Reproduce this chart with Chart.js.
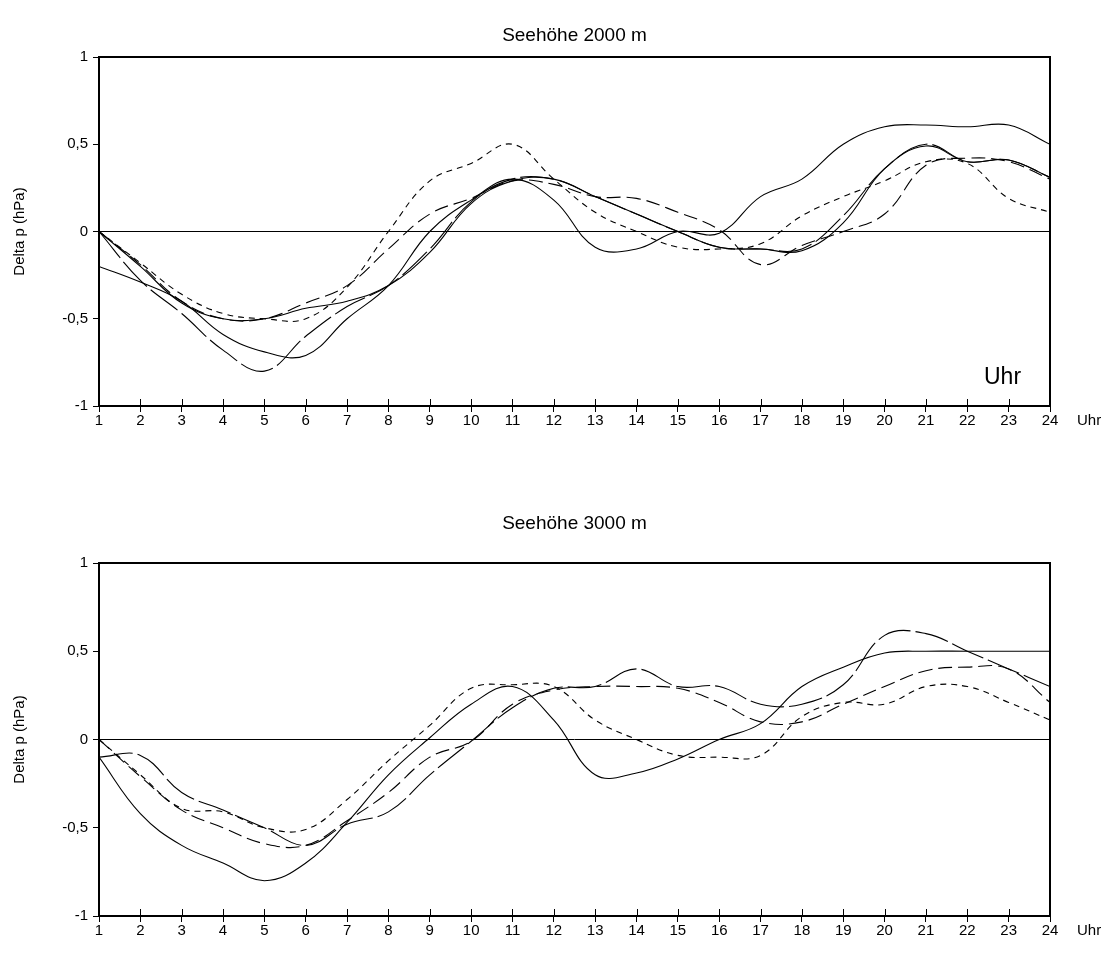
<!DOCTYPE html>
<html>
<head>
<meta charset="utf-8">
<script src="https://cdn.jsdelivr.net/npm/chart.js@4.4.1/dist/chart.umd.min.js"></script>
<style>
  body { margin: 0; background: #fff; width: 1112px; height: 956px; position: relative; overflow: hidden; font-family: "Liberation Sans", Arial, sans-serif; }
  .panel { position: absolute; left: 0; width: 1112px; height: 478px; }
  .panel canvas { display: block; }
  .title { position: absolute; left: 99px; width: 951px; text-align: center; font-size: 19px; line-height: 22px; color: #000; }
</style>
</head>
<body>
<div class="panel" style="top:0"><canvas id="chart2000" width="1112" height="478"></canvas></div>
<div class="panel" style="top:478px"><canvas id="chart3000" width="1112" height="478"></canvas></div>
<div class="title" style="top:24px">Seehöhe 2000 m</div>
<div class="title" style="top:512px">Seehöhe 3000 m</div>
<script>
// hours of the day
const hours = [1, 2, 3, 4, 5, 6, 7, 8, 9, 10, 11, 12, 13, 14, 15, 16, 17, 18, 19, 20, 21, 22, 23, 24];
const yTicks = [-1, -0.5, 0, 0.5, 1];

// Seehöhe 2000 m
const h2000a = [-0.20, -0.29, -0.40, -0.59, -0.69, -0.71, -0.50, -0.31, 0.00, 0.18, 0.30, 0.18, -0.09, -0.10, 0.00, -0.01, 0.20, 0.30, 0.50, 0.60, 0.61, 0.60, 0.61, 0.50];
const h2000b = [0.00, -0.28, -0.47, -0.68, -0.80, -0.60, -0.43, -0.31, -0.10, 0.17, 0.30, 0.30, 0.20, 0.10, 0.00, -0.09, -0.10, -0.10, 0.09, 0.36, 0.50, 0.40, 0.41, 0.31];
const h2000c = [0.00, -0.19, -0.40, -0.50, -0.50, -0.41, -0.31, -0.10, 0.10, 0.19, 0.29, 0.27, 0.20, 0.19, 0.11, 0.01, -0.19, -0.08, 0.00, 0.10, 0.38, 0.42, 0.40, 0.30];
const h2000d = [0.00, -0.18, -0.36, -0.47, -0.50, -0.50, -0.32, 0.00, 0.29, 0.39, 0.50, 0.30, 0.11, 0.00, -0.09, -0.10, -0.07, 0.09, 0.20, 0.29, 0.40, 0.39, 0.19, 0.11];
const h2000e = [0.00, -0.20, -0.41, -0.50, -0.50, -0.44, -0.40, -0.31, -0.12, 0.16, 0.29, 0.30, 0.20, 0.10, 0.00, -0.09, -0.10, -0.11, 0.05, 0.36, 0.49, 0.40, 0.41, 0.31];

// Seehöhe 3000 m
const h3000a = [-0.10, -0.42, -0.60, -0.70, -0.80, -0.70, -0.47, -0.20, 0.01, 0.20, 0.30, 0.11, -0.20, -0.19, -0.11, 0.00, 0.09, 0.30, 0.41, 0.49, 0.50, 0.50, 0.50, 0.50];
const h3000b = [-0.10, -0.09, -0.30, -0.40, -0.50, -0.60, -0.48, -0.41, -0.20, -0.01, 0.18, 0.29, 0.30, 0.40, 0.30, 0.30, 0.20, 0.20, 0.31, 0.59, 0.60, 0.50, 0.40, 0.30];
const h3000c = [0.00, -0.21, -0.40, -0.50, -0.59, -0.60, -0.46, -0.30, -0.10, -0.01, 0.20, 0.28, 0.30, 0.30, 0.29, 0.21, 0.10, 0.10, 0.20, 0.30, 0.39, 0.41, 0.40, 0.21];
const h3000d = [0.00, -0.20, -0.39, -0.41, -0.50, -0.51, -0.34, -0.12, 0.08, 0.29, 0.31, 0.30, 0.11, 0.00, -0.09, -0.10, -0.09, 0.13, 0.21, 0.20, 0.30, 0.30, 0.21, 0.11];

const FONT = '"Liberation Sans", Arial, sans-serif';

const framePlugin = {
  id: "frame",
  afterDatasetsDraw(chart, args, opts) {
    const { ctx, chartArea: a } = chart;
    const x = chart.scales.x;
    ctx.save();
    ctx.strokeStyle = "#000";
    ctx.lineWidth = 2;
    ctx.strokeRect(a.left, a.top, a.right - a.left, a.bottom - a.top);
    ctx.lineWidth = 1;
    x.ticks.forEach(t => {
      const px = Math.round(x.getPixelForValue(t.value)) + 0.5;
      ctx.beginPath();
      ctx.moveTo(px, a.bottom);
      ctx.lineTo(px, a.bottom - 7);
      ctx.stroke();
    });
    ctx.fillStyle = "#000";
    ctx.textBaseline = "middle";
    ctx.textAlign = "left";
    ctx.font = "15px " + FONT;
    ctx.fillText("Uhr", x.getPixelForValue(24) + 27, a.bottom + 15);
    if (opts.innerLabel) {
      ctx.font = "23px " + FONT;
      ctx.fillText(opts.innerLabel, a.right - 66, a.bottom - 28);
    }
    ctx.restore();
  }
};

const styles = [
  { dash: [] },
  { dash: [34, 5] },
  { dash: [14, 6] },
  { dash: [6, 5] },
  { dash: [] }
];

function makeChart(id, series, padTop, xHeight, innerLabel) {
  const ctx = document.getElementById(id).getContext("2d");
  return new Chart(ctx, {
    type: "line",
    data: {
      datasets: series.map((vals, i) => ({
        data: hours.map((h, j) => ({ x: h, y: vals[j] })),
        borderColor: "#000",
        borderWidth: 1.1,
        borderDash: styles[i].dash,
        pointRadius: 0,
        tension: 0.4,
        fill: false
      }))
    },
    options: {
      responsive: false,
      animation: false,
      devicePixelRatio: 1,
      layout: { padding: { top: padTop, right: 62, left: 0, bottom: 0 } },
      plugins: {
        legend: { display: false },
        tooltip: { enabled: false },
        frame: { innerLabel: innerLabel }
      },
      scales: {
        x: {
          type: "linear",
          min: hours[0],
          max: hours[hours.length - 1],
          afterBuildTicks: s => { s.ticks = hours.map(h => ({ value: h })); },
          ticks: { autoSkip: false, maxRotation: 0, color: "#000", padding: 0, font: { size: 15, family: FONT } },
          grid: { drawOnChartArea: false, tickLength: 6, tickColor: "#000", lineWidth: 1 },
          border: { display: false },
          afterFit: s => { s.height = xHeight; }
        },
        y: {
          min: yTicks[0],
          max: yTicks[yTicks.length - 1],
          afterBuildTicks: s => { s.ticks = yTicks.map(v => ({ value: v })); },
          ticks: {
            color: "#000",
            padding: 5,
            font: { size: 15, family: FONT },
            callback: v => String(v).replace(".", ",")
          },
          grid: {
            color: c => (c.tick && c.tick.value === 0 ? "#000" : "rgba(0,0,0,0)"),
            tickColor: "#000",
            tickLength: 6,
            lineWidth: 1
          },
          border: { display: false },
          title: { display: true, text: "Delta p (hPa)", color: "#000", font: { size: 15, family: FONT }, padding: { top: 11, bottom: 0 } },
          afterFit: s => { s.width = 99; }
        }
      }
    },
    plugins: [framePlugin]
  });
}

makeChart("chart2000", [h2000a, h2000b, h2000c, h2000d, h2000e], 57, 72, "Uhr");
makeChart("chart3000", [h3000a, h3000b, h3000c, h3000d], 85, 40, null);
</script>
</body>
</html>
